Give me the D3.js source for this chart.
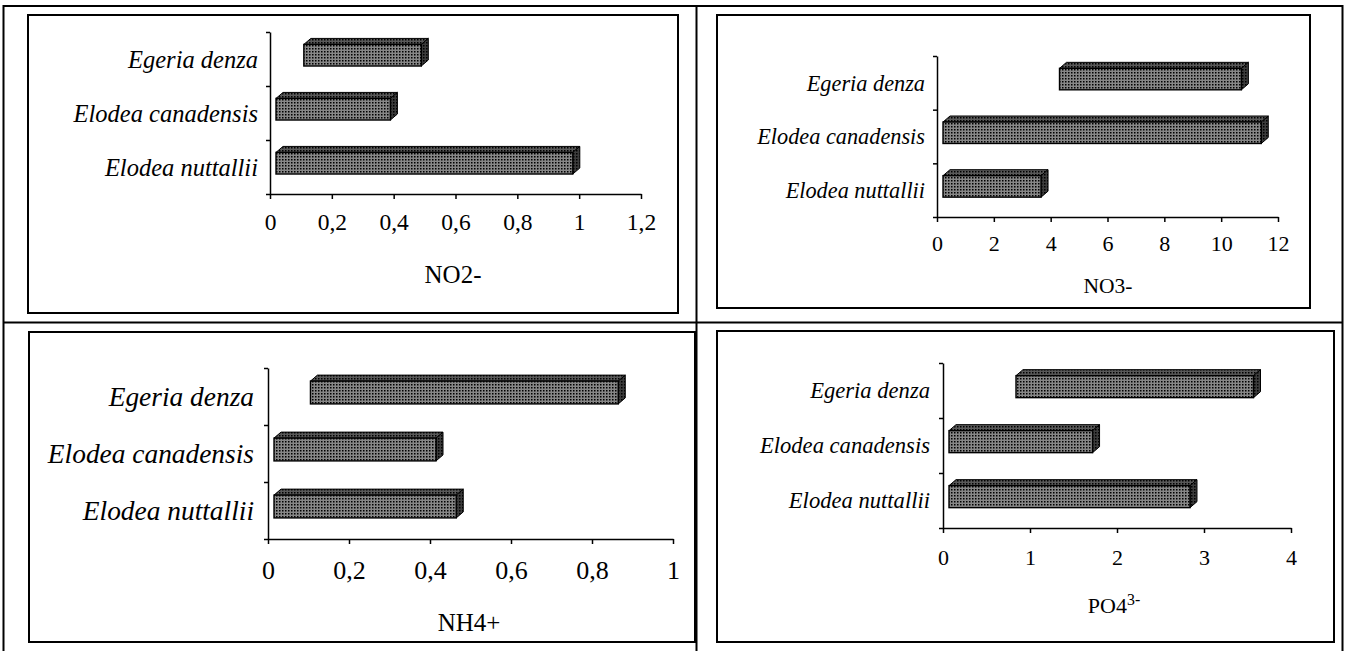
<!DOCTYPE html>
<html>
<head>
<meta charset="utf-8">
<script src="https://cdn.jsdelivr.net/npm/d3@7"></script>
<style>
  body { margin: 0; background: #fff; }
  svg text { font-family: "Liberation Serif", "Times New Roman", serif; fill: #000; }
</style>
</head>
<body>
<svg id="chart" width="1346" height="651"></svg>
<script>
// categories (top to bottom)
const species = ["Egeria denza", "Elodea canadensis", "Elodea nuttallii"];

// floating bars: start / end for each species
const no2Start = [0.09, 0, 0];
const no2End = [0.47, 0.37, 0.96];
const no3Start = [4.1, 0, 0];
const no3End = [10.5, 11.2, 3.45];
const nh4Start = [0.09, 0, 0];
const nh4End = [0.85, 0.4, 0.45];
const po4Start = [0.77, 0, 0];
const po4End = [3.5, 1.65, 2.77];

// tick labels
const no2Ticks = [0, 0.2, 0.4, 0.6, 0.8, 1, 1.2];
const no3Ticks = [0, 2, 4, 6, 8, 10, 12];
const nh4Ticks = [0, 0.2, 0.4, 0.6, 0.8, 1];
const po4Ticks = [0, 1, 2, 3, 4];

const fmt = d3.formatLocale({ decimal: ",", thousands: ".", grouping: [3], currency: ["", ""] }).format("~g");

let svg = d3.select("#chart");
let defs = svg.append("defs");

// dotted fill like the old excel pattern
function dotPattern(id, base, dot) {
  let p = defs.append("pattern")
    .attr("id", id)
    .attr("patternUnits", "userSpaceOnUse")
    .attr("width", 3).attr("height", 3);
  p.append("rect").attr("width", 3).attr("height", 3).attr("fill", base);
  p.append("rect").attr("width", 1.5).attr("height", 1.5).attr("fill", dot);
}
dotPattern("front", "#878787", "#000");
dotPattern("top", "#595959", "#000");
dotPattern("side", "#3c3c3c", "#000");

function drawPanel(cfg) {
  let g = svg.append("g");

  // panel frame
  g.append("rect")
    .attr("x", cfg.frame[0]).attr("y", cfg.frame[1])
    .attr("width", cfg.frame[2] - cfg.frame[0])
    .attr("height", cfg.frame[3] - cfg.frame[1])
    .attr("fill", "none").attr("stroke", "#000").attr("stroke-width", 2);

  let x = d3.scaleLinear()
    .domain([0, d3.max(cfg.ticks)])
    .range([cfg.x0, cfg.x1]);

  let y = d3.scaleBand()
    .domain(species)
    .range([cfg.y0, cfg.y1]);

  let bw = y.bandwidth();
  let gap = 6, dx = 7, dy = 6;

  let data = species.map((s, i) => ({ name: s, start: cfg.start[i], end: cfg.end[i] }));

  let bars = g.append("g")
    .selectAll("g")
    .data(data)
    .join("g");

  let fx0 = d => x(d.start) + gap;
  let fx1 = d => x(d.end) + gap;
  let fy0 = d => y(d.name) + bw / 2 - 0.27 * bw;
  let fy1 = d => y(d.name) + bw / 2 + 0.13 * bw;

  // top face
  bars.append("path")
    .attr("d", d => `M${fx0(d)},${fy0(d)} L${fx0(d) + dx},${fy0(d) - dy} L${fx1(d) + dx},${fy0(d) - dy} L${fx1(d)},${fy0(d)} Z`)
    .attr("fill", "url(#top)").attr("stroke", "#000").attr("stroke-width", 1);

  // side face
  bars.append("path")
    .attr("d", d => `M${fx1(d)},${fy0(d)} L${fx1(d) + dx},${fy0(d) - dy} L${fx1(d) + dx},${fy1(d) - dy} L${fx1(d)},${fy1(d)} Z`)
    .attr("fill", "url(#side)").attr("stroke", "#000").attr("stroke-width", 1);

  // front face
  bars.append("rect")
    .attr("x", fx0).attr("y", fy0)
    .attr("width", d => fx1(d) - fx0(d))
    .attr("height", d => fy1(d) - fy0(d))
    .attr("fill", "url(#front)").attr("stroke", "#000").attr("stroke-width", 1.4);

  // y axis: ticks at the band edges
  let yEdges = d3.scaleLinear().domain([0, species.length]).range([cfg.y0, cfg.y1]);
  g.append("g")
    .attr("transform", `translate(${cfg.x0},0)`)
    .call(d3.axisLeft(yEdges).tickValues([0, 1, 2, 3]).tickFormat("").tickSize(4).tickSizeOuter(0))
    .call(a => a.selectAll("line, path").attr("stroke", "#000").attr("stroke-width", 1.5));

  // x axis
  let xa = g.append("g")
    .attr("transform", `translate(0,${cfg.y1})`)
    .call(d3.axisBottom(x).tickValues(cfg.ticks).tickFormat(fmt).tickSize(5).tickSizeOuter(0))
    .call(a => a.selectAll("line, path").attr("stroke", "#000").attr("stroke-width", 1.5));
  xa.selectAll("text")
    .attr("y", cfg.tickY - cfg.y1)
    .attr("dy", "0.35em")
    .attr("font-size", cfg.tickSize)
    .attr("font-family", null);

  // category labels
  g.append("g")
    .selectAll("text")
    .data(species)
    .join("text")
    .attr("x", cfg.labelRight)
    .attr("y", d => y(d) + bw / 2)
    .attr("dy", "0.35em")
    .attr("text-anchor", "end")
    .attr("font-style", "italic")
    .attr("font-size", cfg.catSize)
    .text(d => d);

  // axis title
  let t = g.append("text")
    .attr("x", cfg.titleX)
    .attr("y", cfg.titleY)
    .attr("dy", "0.35em")
    .attr("text-anchor", "middle")
    .attr("font-size", cfg.titleSize)
    .text(cfg.title);
  if (cfg.sup) {
    t.append("tspan")
      .attr("dy", "-0.5em")
      .attr("font-size", cfg.titleSize * 0.72)
      .text(cfg.sup);
  }
}

drawPanel({
  frame: [28, 15, 678, 313], x0: 270, x1: 641, y0: 32, y1: 194,
  ticks: no2Ticks, start: no2Start, end: no2End,
  tickY: 222, tickSize: 23.5, catSize: 24.5, labelRight: 258,
  title: "NO2-", titleX: 453, titleY: 274, titleSize: 25
});

drawPanel({
  frame: [717, 15, 1310, 308], x0: 937, x1: 1278, y0: 56, y1: 217,
  ticks: no3Ticks, start: no3Start, end: no3End,
  tickY: 243, tickSize: 22, catSize: 22.3, labelRight: 925,
  title: "NO3-", titleX: 1108, titleY: 285, titleSize: 21.5
});

drawPanel({
  frame: [29, 332, 695, 642], x0: 268, x1: 673, y0: 368, y1: 539,
  ticks: nh4Ticks, start: nh4Start, end: nh4End,
  tickY: 570, tickSize: 26, catSize: 27.4, labelRight: 254,
  title: "NH4+", titleX: 469, titleY: 622, titleSize: 25
});

drawPanel({
  frame: [717, 331, 1334, 642], x0: 943, x1: 1291, y0: 363, y1: 528,
  ticks: po4Ticks, start: po4Start, end: po4End,
  tickY: 557, tickSize: 22, catSize: 22.6, labelRight: 930,
  title: "PO4", sup: "3-", titleX: 1114, titleY: 605, titleSize: 22
});

// table grid lines around the four panels
let grid = svg.append("g").attr("stroke", "#000").attr("stroke-width", 2);
grid.append("line").attr("x1", 3).attr("x2", 1343).attr("y1", 6).attr("y2", 6);
grid.append("line").attr("x1", 3.5).attr("x2", 3.5).attr("y1", 5).attr("y2", 651);
grid.append("line").attr("x1", 1342.5).attr("x2", 1342.5).attr("y1", 5).attr("y2", 651);
grid.append("line").attr("x1", 696.5).attr("x2", 696.5).attr("y1", 5).attr("y2", 651);
grid.append("line").attr("x1", 3).attr("x2", 1343).attr("y1", 322.5).attr("y2", 322.5);
</script>
</body>
</html>
